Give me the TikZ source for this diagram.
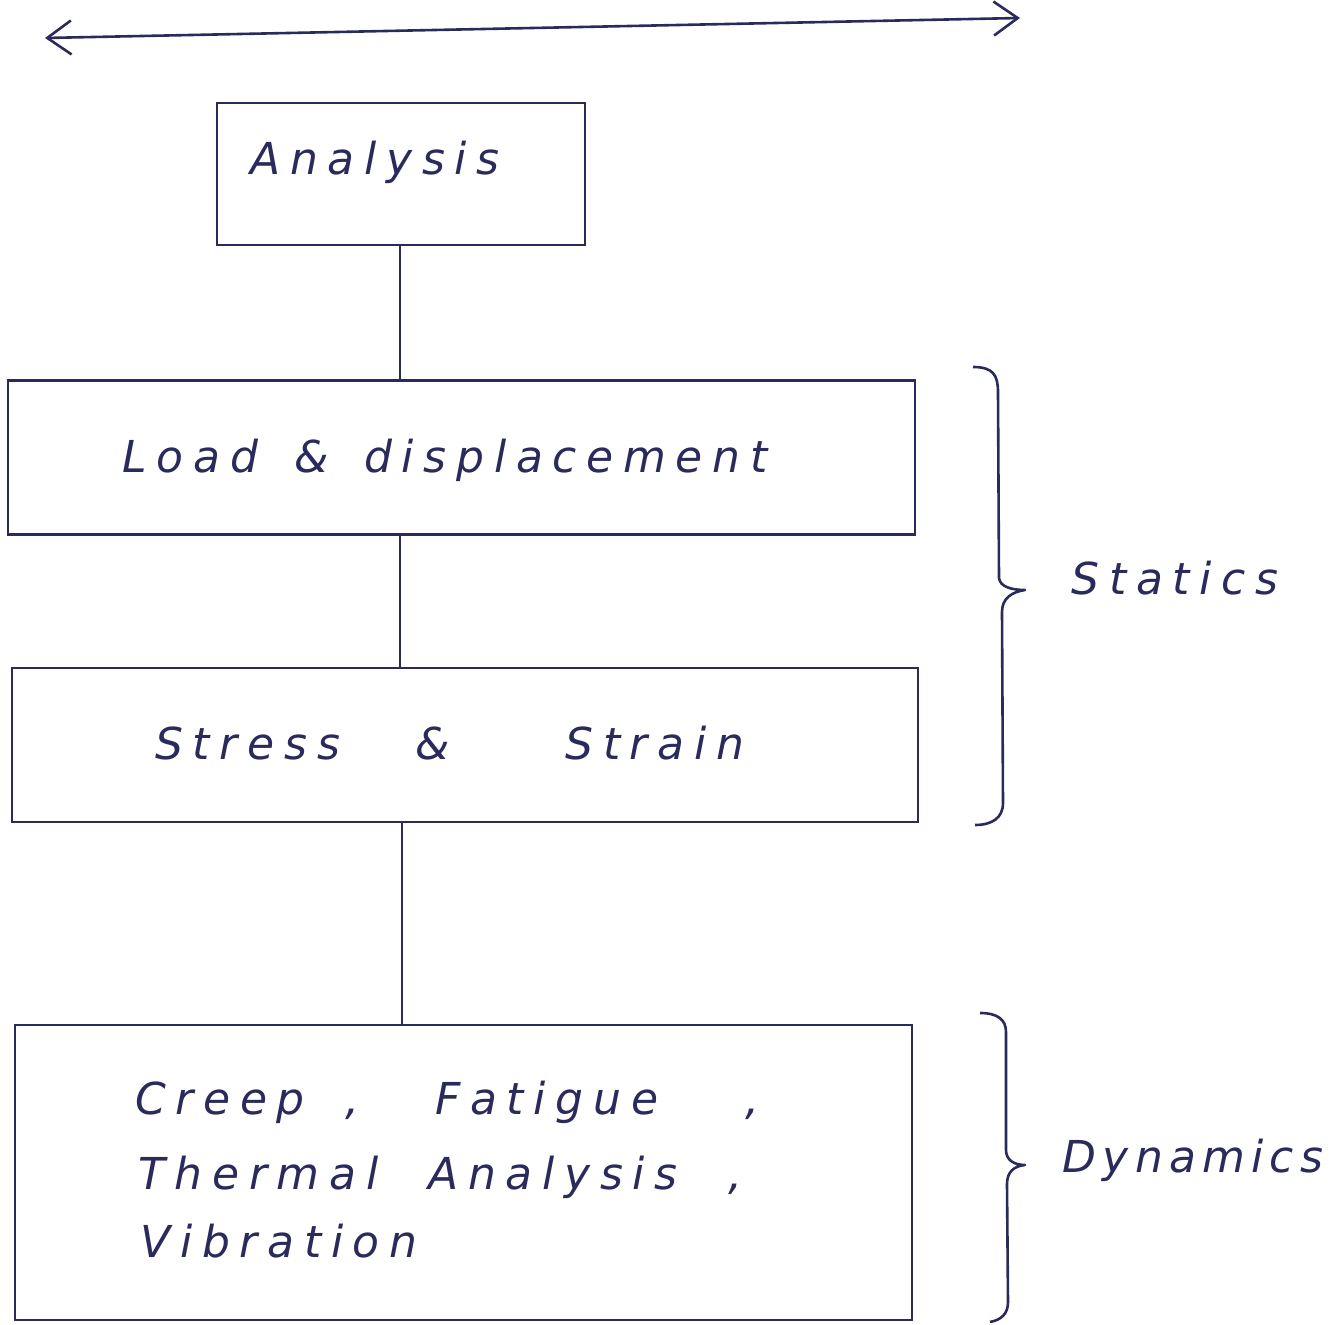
\documentclass[tikz,border=0pt]{standalone}
\usepackage{fontspec}
\newfontfamily\hand[LetterSpace=22]{DejaVu Sans}
\usetikzlibrary{arrows.meta}
\definecolor{ink}{RGB}{42,42,92}
\begin{document}
\begin{tikzpicture}[x=0.5pt,y=-0.5pt,
  ink line/.style={draw=ink,line width=1.3pt},
  box/.style={ink line,rectangle,inner sep=0pt},
  txt/.style={text=ink,font=\hand\itshape\fontsize{22}{26}\selectfont,inner sep=0pt}]
\useasboundingbox (0,0) rectangle (1335,1325);
% top double arrow
\coordinate (aL) at (45,38);
\coordinate (aR) at (1020,18);
\draw[ink line,{Straight Barb[length=12pt,width=17pt]}-{Straight Barb[length=12pt,width=17pt]}] (aL) -- (aR);
% boxes
\node[box,minimum width=184pt,minimum height=71pt] (an) at (401,174) {};
\node[box,minimum width=453.5pt,minimum height=77pt] (ld) at (461.5,457.5) {};
\node[box,minimum width=453pt,minimum height=77pt] (ss) at (465,745) {};
\node[box,minimum width=448.5pt,minimum height=147.5pt] (dy) at (463.5,1172.5) {};
% texts
\node[txt] (tan) at (375,162) {Analysis};
\node[txt] (tld) at (445,460) {Load\hspace{18pt}\&\hspace{18pt}displacement};
\node[txt,anchor=base west] (tss) at (155,760) {\makebox[130pt][l]{Stress}\makebox[75pt][l]{\&}Strain};
\node[txt,anchor=base west] (l1) at (135,1115) {\makebox[105pt][l]{Creep}\makebox[45pt][l]{,}\makebox[155pt][l]{Fatigue},};
\node[txt,anchor=base west] (l2) at (138,1190) {\makebox[145pt][l]{Thermal}\makebox[150pt][l]{Analysis},};
\node[txt,anchor=base west] (l3) at (140,1258) {Vibration};
% connectors
\draw[ink line] (an.south -| 400,0) -- (ld.north -| 400,0);
\draw[ink line] (ld.south -| 400,0) -- (ss.north -| 400,0);
\draw[ink line] (ss.south -| 402,0) -- (dy.north -| 402,0);
% braces
\draw[ink line,line join=round] (973,367) .. controls (993,367) and (998,375) .. (998,392)
  -- (999,578) .. controls (1000,587) and (1012,590) .. (1025,590)
  .. controls (1012,592) and (1002,598) .. (1002,612)
  -- (1003,803) .. controls (1003,818) and (992,825) .. (975,825);
\draw[ink line,line join=round] (980,1013) .. controls (998,1013) and (1006,1020) .. (1006,1032)
  -- (1006,1150) .. controls (1006,1160) and (1014,1165) .. (1025,1165)
  .. controls (1014,1166) and (1007,1172) .. (1007,1184)
  -- (1008,1302) .. controls (1008,1314) and (1001,1320) .. (990,1322);
\node[txt] (st) at (1175,578) {Statics};
\node[txt] (dn) at (1193,1160) {\addfontfeatures{LetterSpace=14}Dynamics};
\end{tikzpicture}
\end{document}
